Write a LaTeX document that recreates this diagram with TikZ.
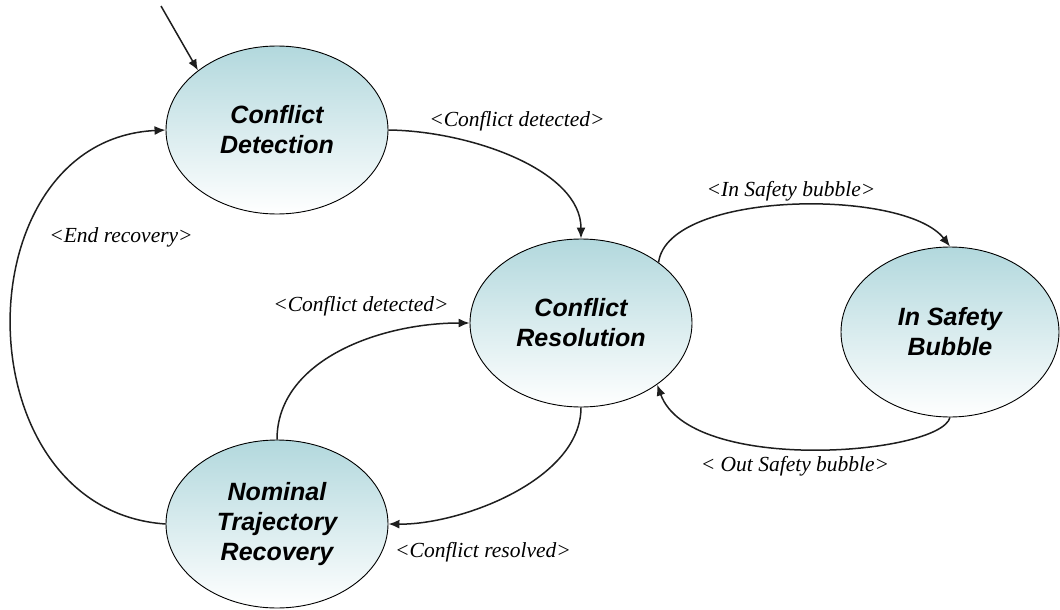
\documentclass[tikz,border=0pt]{standalone}
\usepackage{fontspec}
\setmainfont{Liberation Serif}
\newfontfamily\statefont{Liberation Sans}
\usetikzlibrary{shapes.geometric,arrows.meta}
\definecolor{statetop}{RGB}{178,216,221}
\definecolor{edgecol}{RGB}{30,30,30}
\begin{document}
\begin{tikzpicture}[x=1pt,y=-1pt,
  state/.style={ellipse,draw=black,line width=0.9pt,minimum width=222pt,minimum height=168pt,
    inner sep=0pt,top color=statetop,bottom color=white,align=center,
    font=\statefont\bfseries\itshape\fontsize{25}{30}\selectfont},
  trans/.style={draw=edgecol,line width=1.5pt,-{Latex[length=11pt,width=9pt]}},
  guard/.style={font=\itshape\fontsize{21.5}{24}\selectfont,inner sep=0pt}]
\useasboundingbox (0,0) rectangle (1060,610);

% states
\node[state] (cd)  at (277,130) {Conflict\\Detection};
\node[state] (cr)  at (581,323) {Conflict\\Resolution};
\node[state,minimum width=218pt,minimum height=170pt] (isb) at (950,332) {In Safety\\Bubble};
\node[state] (ntr) at (277,524) {Nominal\\Trajectory\\Recovery};

% initial transition
\coordinate (init) at (161,6);
\draw[trans] (init) -- (cd.143);

% transitions
\draw[trans] (cd.east) .. controls (470,131) and (581,170) .. (cr.north);
\draw[trans] (cr.38) .. controls (668,190) and (905,188) .. (isb.north);
\draw[trans] (isb.south) .. controls (940,455) and (690,475) .. (cr.-39);
\draw[trans] (ntr.north) .. controls (277,360) and (380,323) .. (cr.west);
\draw[trans] (cr.south) .. controls (581,480) and (460,525) .. (ntr.east);
\draw[trans] (ntr.west) .. controls (-40,510) and (-40,140) .. (cd.west);

% guards
\node[guard] (g1) at (517,121) {<Conflict detected>};
\node[guard] (g2) at (791,191) {<In Safety bubble>};
\node[guard] (g3) at (795,466) {< Out Safety bubble>};
\node[guard] (g4) at (361,306) {<Conflict detected>};
\node[guard] (g5) at (483,552) {<Conflict resolved>};
\node[guard] (g6) at (121,237) {<End recovery>};
\end{tikzpicture}
\end{document}
